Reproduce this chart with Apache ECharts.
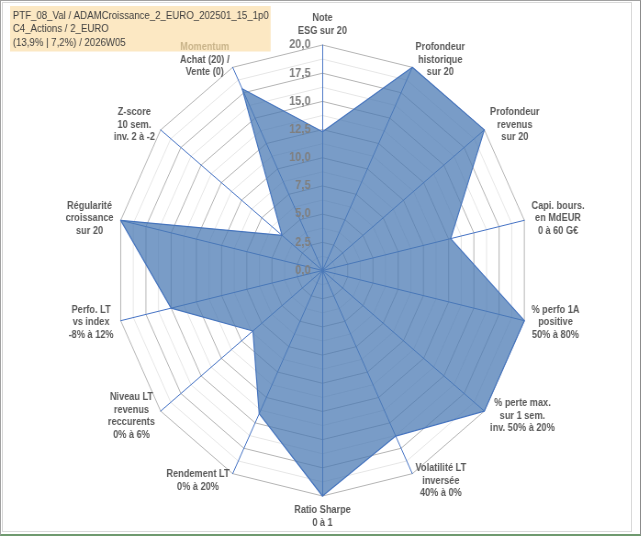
<!DOCTYPE html>
<html>
<head>
<meta charset="utf-8">
<script src="https://cdn.jsdelivr.net/npm/echarts@6/dist/echarts.min.js"></script>
<style>
  html, body { margin: 0; padding: 0; background: #fff; }
  #frame { position: absolute; left: 0; top: 0; width: 641px; height: 536px; box-sizing: border-box;
           border-top: 1px solid #a0a0a0; border-left: 1px solid #a0a0a0; border-right: 1px solid #8c8c8c;
           border-bottom: 2px solid #6f9a6f; }
  #plot { position: absolute; left: 2px; top: 2px; width: 630px; height: 530px; box-sizing: border-box;
          border: 1px solid #d9d9d9; }
  /* the reference picture is squeezed horizontally, so the round radar is squeezed too */
  #chart { position: absolute; left: 0; top: 0; width: 698px; height: 536px;
           transform: scaleX(0.918); transform-origin: 0 0; }
</style>
</head>
<body>
<div id="frame"></div>
<div id="plot"></div>
<div id="chart"></div>
<script>
// axes, clockwise from the top
var axisNames = [
    'Note\nESG sur 20',
    'Profondeur\nhistorique\nsur 20',
    'Profondeur\nrevenus\nsur 20',
    'Capi. bours.\nen MdEUR\n0 à 60 G€',
    '% perfo 1A\npositive\n50% à 80%',
    '% perte max.\nsur 1 sem.\ninv. 50% à 20%',
    'Volatilité LT\ninversée\n40% à 0%',
    'Ratio Sharpe\n0 à 1',
    'Rendement LT\n0% à 20%',
    'Niveau LT\nrevenus\nreccurents\n0% à 6%',
    'Perfo. LT\nvs index\n-8% à 12%',
    'Régularité\ncroissance\nsur 20',
    'Z-score\n10 sem.\ninv. 2 à -2',
    'Momentum\nAchat (20) /\nVente (0)'
];
var scores = [12.3, 20, 20, 12.7, 20, 20, 16.3, 20, 14.1, 8.6, 15.0, 20, 5.0, 17.9];

var scaleMin = 0;
var scaleMax = 20;
var scaleStep = 1.25;   // grid rings
var labelStep = 2.5;    // rings with a number

var titleLines = [
    'PTF_08_Val / ADAMCroissance_2_EURO_202501_15_1p0',
    'C4_Actions / 2_EURO',
    '(13,9% | 7,2%) / 2026W05'
];

// echarts lays radar axes counter-clockwise, so feed them reversed after the first
var order = [0];
for (var i = axisNames.length - 1; i >= 1; i--) order.push(i);

var indicators = order.map(function (k) {
    return { name: axisNames[k], min: scaleMin, max: scaleMax };
});
// same axes again, only for the numbers on the top axis (drawn above the fill)
var labelIndicators = order.map(function (k, j) {
    var ind = { name: axisNames[k], min: scaleMin, max: scaleMax };
    if (j == 0) {
        ind.axisLabel = {
            show: true,
            margin: 13,
            color: '#7f7f7f',
            fontSize: 12,
            fontWeight: 'bold',
            fontFamily: 'Liberation Sans',
            formatter: function (v) {
                var q = v / labelStep;
                if (Math.abs(q - Math.round(q)) > 1e-6) return '';
                return v.toFixed(1).replace('.', ',');
            }
        };
    }
    return ind;
});
var values = order.map(function (k) { return scores[k]; });

var chart = echarts.init(document.getElementById('chart'));

var center = [351.3, 270.5];
var radius = 225.5;

var option = {
    animation: false,
    title: {
        z: 0,
        text: titleLines.join('\n'),
        left: 11,
        top: 6,
        padding: [3, 2, 2, 3],
        backgroundColor: '#fce8c3',
        textStyle: {
            color: '#404040',
            fontSize: 10.5,
            fontWeight: 'normal',
            fontFamily: 'Liberation Sans',
            lineHeight: 13.5
        }
    },
    radar: [{
        z: 3,
        center: center,
        radius: radius,
        startAngle: 90,
        shape: 'polygon',
        splitNumber: (scaleMax - scaleMin) / scaleStep,
        indicator: indicators,
        axisName: {
            formatter: function (name) {
                return name.split('\n').map(function (line) {
                    return (line == 'Momentum' ? '{m|' : '{n|') + line + '}';
                }).join('\n');
            },
            rich: {
                n: { align: 'center', color: '#595959', fontSize: 10, fontWeight: 'bold',
                     fontFamily: 'Liberation Sans', lineHeight: 12.5 },
                m: { align: 'center', color: '#c9b48a', fontSize: 10, fontWeight: 'bold',
                     fontFamily: 'Liberation Sans', lineHeight: 12.5 }
            }
        },
        nameGap: 8,
        axisLine: { lineStyle: { color: '#4472c4', width: 1 } },
        axisTick: { show: false },
        axisLabel: { show: false },
        splitLine: { lineStyle: { color: ['#b4b4b4', '#e6e6e6'], width: 1 } },
        splitArea: { show: false }
    }, {
        z: 6,
        center: center,
        radius: radius,
        startAngle: 90,
        shape: 'polygon',
        splitNumber: (scaleMax - scaleMin) / scaleStep,
        indicator: labelIndicators,
        axisName: { show: false },
        axisLine: { show: false },
        axisTick: { show: false },
        axisLabel: { show: false },
        splitLine: { show: false },
        splitArea: { show: false }
    }],
    series: [{
        type: 'radar',
        radarIndex: 0,
        z: 4,
        symbol: 'none',
        lineStyle: { color: '#4472c4', width: 1.2 },
        areaStyle: { color: '#4a7ab4', opacity: 0.74 },
        data: [{ value: values, name: 'PTF_08_Val' }]
    }]
};

chart.setOption(option);
</script>
</body>
</html>
